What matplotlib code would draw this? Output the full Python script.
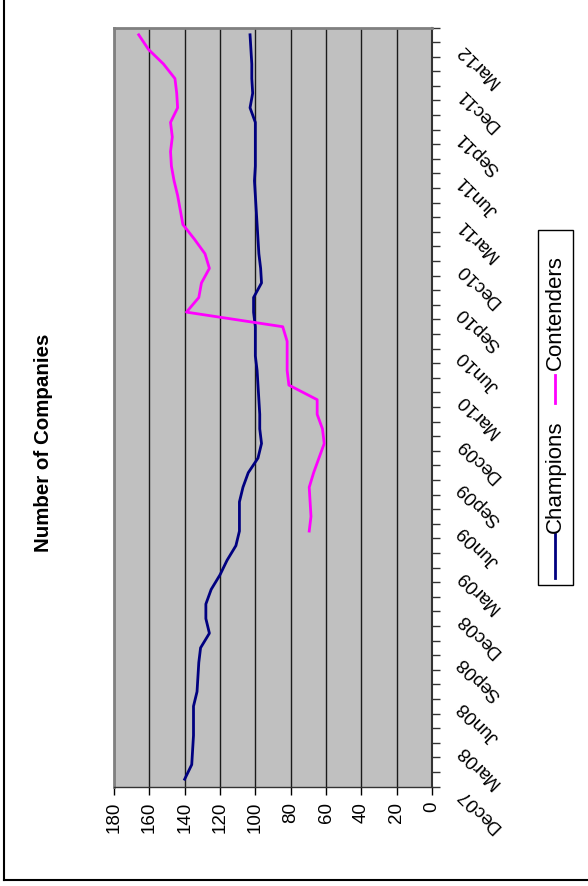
import numpy as np
import matplotlib
matplotlib.use('Agg')
import matplotlib.pyplot as plt
from matplotlib.lines import Line2D
from matplotlib.patches import Rectangle
from matplotlib.transforms import ScaledTranslation, blended_transform_factory

plt.rcParams['font.family'] = ['Liberation Sans', 'DejaVu Sans']

# monthly categories, Dec07 .. Mar12 (52 months), labelled every quarter
quarter_labels = ['Dec07', 'Mar08', 'Jun08', 'Sep08', 'Dec08', 'Mar09', 'Jun09',
                  'Sep09', 'Dec09', 'Mar10', 'Jun10', 'Sep10', 'Dec10', 'Mar11',
                  'Jun11', 'Sep11', 'Dec11', 'Mar12']
n_months = 52

champions = [140, 136, 135.5, 135, 135, 135, 133, 132.5, 132, 131,
             126, 128, 128, 125, 120, 116, 111, 109, 109, 109,
             107, 104, 98.5, 96.5, 97.5, 97.5, 98, 98.5, 99, 100,
             100, 100, 101, 101, 96.5, 97, 98, 98.5, 99, 99.5,
             100, 100.5, 100, 100, 100, 100, 103, 101.5, 102, 102,
             102.5, 103]

contenders_start = 17   # first month with a Contenders value (May09)
contenders = [69.5, 68.5, 69, 69.5, 67, 64, 61, 62, 65, 65,
              81, 82, 82, 82, 84.5, 139, 132, 130.5, 126, 128.5,
              134.5, 141, 142.5, 144, 146, 147.5, 148, 147, 148, 144,
              144.5, 145.5, 152, 160.5, 166]

W, H = 588, 886
fig = plt.figure(figsize=(W / 100, H / 100), dpi=100)


def fx(x):
    return x / W


def fy(y):
    return 1 - y / H


# plot area (chart is drawn turned on its side)
L, R, T, B = 114, 432, 27.5, 786.5
ax = fig.add_axes([fx(L), fy(B), fx(R) - fx(L), fy(T) - fy(B)])
ax.set_facecolor('#C0C0C0')

months = np.arange(n_months)
ax.plot(champions, months, color='#000080', lw=2.0, zorder=3)
ax.plot(contenders, months[contenders_start:contenders_start + len(contenders)],
        color='#FF00FF', lw=2.0, zorder=3)

ax.set_xlim(180, 0)
ax.set_ylim(-0.5, n_months - 0.5)

# value axis (bottom)
ax.set_xticks(np.arange(0, 181, 20))
ax.set_xticklabels([str(v) for v in range(0, 181, 20)], rotation=90, fontsize=13.5)
ax.tick_params(axis='x', direction='out', length=6, width=1, pad=5, colors='black')
ax.grid(axis='x', color='#1a1a1a', lw=1, zorder=1)
ax.set_axisbelow(True)

# category axis (right), ticks between categories
ax.yaxis.tick_right()
ax.set_yticks(np.arange(-0.5, n_months, 1))
ax.set_yticklabels([])
ax.tick_params(axis='y', direction='out', length=6, width=1, colors='#333333')

for side in ['left', 'top']:
    ax.spines[side].set_color('#808080')
    ax.spines[side].set_linewidth(2)
ax.spines['right'].set_color('#333333')
ax.spines['right'].set_linewidth(1.5)
ax.spines['bottom'].set_color('#333333')
ax.spines['bottom'].set_linewidth(1)

# quarter labels, rotated like the rest of the sheet
trans = blended_transform_factory(ax.transAxes, ax.transData) + \
    ScaledTranslation(0.28, -0.12, fig.dpi_scale_trans)
for i, lab in enumerate(quarter_labels):
    ax.text(1.0, months[i * 3], lab, transform=trans, rotation=135,
            rotation_mode='anchor', ha='right', va='center', fontsize=13.5,
            clip_on=False)

# title
fig.text(fx(44), fy(443), 'Number of Companies', rotation=90, ha='center',
         va='center', fontsize=14.8, fontweight='bold')

# legend box
fig.add_artist(Rectangle((fx(538), fy(585)), fx(573) - fx(538), fy(230) - fy(585),
                         transform=fig.transFigure, fill=False, ec='black', lw=1))
fig.add_artist(Line2D([fx(555), fx(555)], [fy(578), fy(534)], color='#000080', lw=2))
fig.text(fx(555), fy(533), 'Champions', rotation=90, ha='center', va='bottom',
         fontsize=16)
fig.add_artist(Line2D([fx(555), fx(555)], [fy(403), fy(375)], color='#FF00FF', lw=2))
fig.text(fx(555), fy(370), 'Contenders', rotation=90, ha='center', va='bottom',
         fontsize=16)

# outer chart border (left and bottom edges visible)
fig.add_artist(Line2D([fx(3.5), fx(3.5)], [fy(0), fy(880)], color='black', lw=1.5))
fig.add_artist(Line2D([fx(3.5), fx(588)], [fy(880), fy(880)], color='black', lw=1.5))

fig.savefig('out.png', dpi=100)
